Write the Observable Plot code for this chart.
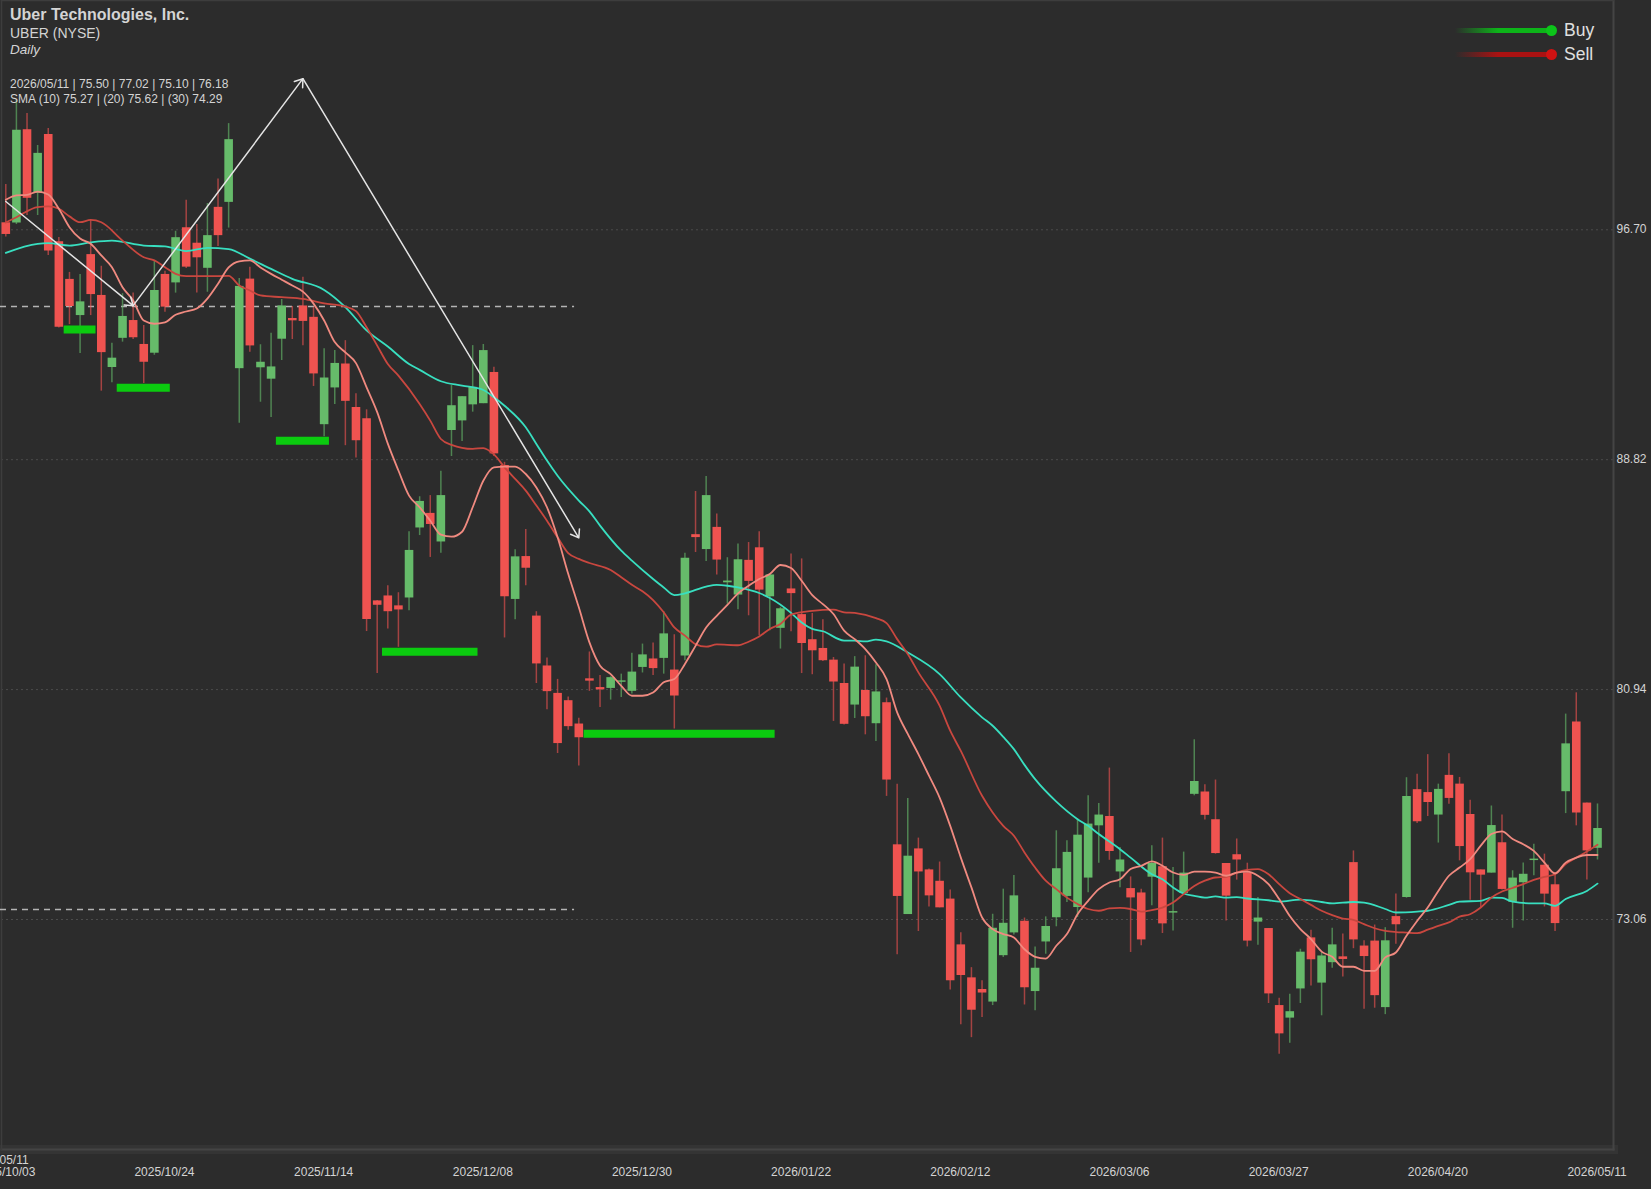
<!DOCTYPE html>
<html><head><meta charset="utf-8">
<script src="https://cdn.jsdelivr.net/npm/d3@7"></script>
<script src="https://cdn.jsdelivr.net/npm/@observablehq/plot@0.6"></script>
<style>
html,body{margin:0;padding:0;background:#2c2c2c;overflow:hidden}
#wrap{position:relative;width:1651px;height:1189px;font-family:"Liberation Sans",sans-serif;color:#d4d4d4}
#wrap svg{display:block}
.t{position:absolute;left:10px;white-space:nowrap}
.lg{position:absolute;left:1455px;width:96px;height:5px;}
.dot{position:absolute;left:1546px;width:11px;height:11px;border-radius:50%}
.lt{position:absolute;left:1564px;font-size:17.5px;color:#e0e0e0}
</style></head><body>
<div id="wrap">
<div class="t" style="top:6px;font-size:16px;font-weight:bold">Uber Technologies, Inc.</div>
<div class="t" style="top:25px;font-size:14px">UBER (NYSE)</div>
<div class="t" style="top:42px;font-size:13.5px;font-style:italic">Daily</div>
<div class="t" style="top:77px;font-size:12px">2026/05/11 | 75.50 | 77.02 | 75.10 | 76.18</div>
<div class="t" style="top:92px;font-size:12px">SMA (10) 75.27 | (20) 75.62 | (30) 74.29</div>
<div class="lg" style="top:27.5px;background:linear-gradient(to right,rgba(13,180,25,0),rgba(13,180,25,1) 45%)"></div>
<div class="dot" style="top:24.5px;background:#0cc41a"></div>
<div class="lt" style="top:20px">Buy</div>
<div class="lg" style="top:51.5px;background:linear-gradient(to right,rgba(170,18,18,0),rgba(170,18,18,1) 45%)"></div>
<div class="dot" style="top:48.5px;background:#d01212"></div>
<div class="lt" style="top:44px">Sell</div>
</div>
<script>
const tickBars=[0,15,30,45,60,75,90,105,120,135,150];
const tickLabels=["2025/10/03","2025/10/24","2025/11/14","2025/12/08","2025/12/30","2026/01/22","2026/02/12","2026/03/06","2026/03/27","2026/04/20","2026/05/11"];
const priceTicks=[96.70,88.82,80.94,73.06];
const open=[96.94,96.93,100.13,97.95,99.97,96.29,95.00,93.76,95.85,94.45,
91.98,92.98,93.59,92.77,92.47,95.17,94.88,96.77,96.24,95.38,
97.47,97.64,91.94,95.01,91.97,91.58,92.95,93.66,94.09,93.70,
90.02,91.28,92.10,90.61,90.22,83.98,84.15,83.81,84.08,86.48,
86.98,86.00,89.82,90.15,90.70,90.74,91.81,88.62,84.03,85.50,
83.46,81.75,80.81,80.56,79.76,81.31,81.01,80.98,81.19,80.88,
81.70,81.99,82.01,81.61,82.09,86.25,85.74,86.50,84.60,84.18,
85.37,85.80,84.12,83.04,84.39,83.51,82.65,82.35,81.95,81.15,
80.41,80.91,79.77,80.49,75.62,73.23,75.48,74.76,74.37,73.76,
72.19,71.06,70.66,70.23,71.82,72.60,73.00,70.59,72.29,73.12,
73.85,73.47,74.48,76.27,76.59,74.69,74.12,73.97,74.51,74.87,
73.28,73.95,77.35,77.43,76.48,74.98,75.28,74.66,72.97,72.75,
70.11,69.68,70.68,72.43,70.88,71.58,71.78,75.01,72.15,72.32,
70.04,73.16,73.81,77.51,77.41,76.64,78.00,77.70,76.66,74.76,
74.65,75.69,73.65,74.32,75.08,74.92,74.25,77.44,79.83,77.05,
75.50];
const high=[98.25,101.13,100.69,99.59,100.17,96.44,95.24,95.17,97.02,95.45,
92.81,94.51,94.53,93.42,95.62,95.28,96.65,97.71,96.88,97.60,
98.44,100.34,95.03,95.42,92.76,93.15,94.31,94.07,95.07,94.05,
92.62,92.56,92.90,91.08,90.53,83.99,84.50,84.26,86.35,87.55,
87.59,88.42,91.36,90.98,92.73,92.77,91.99,88.73,85.73,86.43,
83.61,82.02,81.29,80.69,79.96,82.23,81.42,81.38,81.47,82.19,
82.50,82.54,83.61,82.82,85.61,87.73,88.24,86.96,85.46,85.93,
85.98,86.35,84.90,83.76,85.59,85.42,83.55,83.33,82.04,81.82,
82.07,82.10,81.79,80.65,77.70,77.21,75.85,74.79,75.03,74.07,
72.61,71.41,70.96,73.24,74.10,74.57,73.11,72.12,73.15,76.10,
75.76,76.50,77.30,77.04,78.25,75.53,74.52,74.10,75.59,75.85,
74.84,75.37,79.22,77.68,77.84,74.98,75.82,74.99,73.81,72.75,
70.36,70.50,72.04,72.69,71.93,72.76,72.56,75.41,72.33,72.87,
72.78,73.93,77.92,78.04,78.71,77.70,78.74,77.93,77.15,74.76,
76.95,76.64,74.73,75.00,75.64,75.30,74.67,80.10,80.83,77.05,
77.02];
const low=[96.45,96.88,97.19,97.19,95.82,93.33,93.45,92.46,93.76,91.17,
91.46,92.85,92.94,91.43,92.40,93.87,94.53,95.37,94.53,94.56,
96.13,96.76,90.07,92.50,90.79,90.27,92.22,92.94,92.73,91.33,
89.61,90.71,89.30,88.88,82.93,81.49,83.02,82.39,83.64,86.22,
85.47,85.61,88.93,89.44,90.45,90.74,88.93,82.71,83.33,84.50,
81.15,80.25,78.75,79.55,78.32,80.88,80.33,80.58,80.67,80.79,
81.51,81.42,81.47,79.59,81.93,85.64,85.33,84.87,83.87,83.68,
83.47,82.79,82.96,82.33,82.92,81.49,81.45,81.90,79.85,79.73,
79.95,79.39,79.16,77.28,71.85,73.23,72.65,73.49,73.46,70.64,
69.45,69.01,69.70,70.11,71.76,72.53,70.13,69.93,71.87,72.81,
73.64,73.13,73.98,74.99,75.09,74.15,71.93,72.16,73.53,72.58,
72.67,73.95,77.30,76.47,75.30,73.01,74.41,72.12,72.18,70.18,
68.44,68.82,70.18,70.78,69.76,71.39,71.09,72.06,69.98,70.02,
69.80,72.21,73.79,76.35,76.59,75.68,77.01,75.07,73.72,73.47,
74.65,74.07,72.76,73.01,74.56,73.49,72.65,76.69,76.27,74.41,
75.10];
const close=[96.54,100.11,97.78,99.32,95.97,93.36,94.07,94.23,94.48,92.49,
92.30,93.73,93.00,92.16,94.62,94.05,96.43,95.42,95.74,96.50,
96.50,99.79,94.76,92.72,92.16,92.00,94.09,93.58,93.56,91.76,
91.62,92.12,90.82,89.47,83.34,83.83,83.61,83.67,85.71,87.39,
86.60,87.59,90.67,90.98,91.30,92.56,89.02,84.12,85.49,85.10,
81.82,80.87,79.09,79.67,79.29,81.23,80.93,81.35,81.24,81.54,
82.13,81.66,82.85,80.72,85.44,86.15,87.59,85.38,84.66,85.39,
84.65,84.35,84.87,83.71,84.23,82.52,82.27,81.93,81.20,79.75,
81.71,80.01,80.86,77.84,73.85,75.23,74.69,73.87,73.46,70.96,
71.14,69.95,70.54,72.76,72.93,73.87,70.72,71.39,72.82,74.80,
75.36,75.95,76.33,76.64,75.39,75.10,73.80,72.36,74.98,72.91,
73.33,74.65,77.79,76.63,75.32,73.86,75.10,72.32,73.11,70.51,
69.14,69.90,71.94,71.68,71.81,72.19,71.69,72.36,71.79,70.45,
72.33,72.88,77.28,76.41,77.07,77.52,77.21,75.56,74.66,74.58,
76.28,74.09,74.48,74.61,75.13,73.93,72.92,79.08,76.71,75.41,
76.18];
const sma10=[97.73,97.88,97.90,98.01,97.91,97.42,96.79,96.40,96.22,95.82,
95.42,94.73,94.28,93.59,93.48,93.53,93.79,93.90,94.00,94.34,
94.85,95.41,95.62,95.65,95.41,95.19,94.99,94.79,94.58,94.17,
93.59,92.85,92.50,92.13,91.30,90.45,89.37,88.45,87.59,87.19,
86.73,86.25,86.18,86.35,87.19,88.10,88.56,88.58,88.58,88.33,
87.87,87.19,86.16,84.91,83.76,82.56,81.76,81.47,81.07,80.73,
80.73,80.84,81.19,81.30,81.82,82.44,83.07,83.47,83.84,84.24,
84.50,84.73,84.90,85.21,85.11,84.67,84.18,83.87,83.53,82.96,
82.67,82.33,81.87,81.30,80.16,79.42,78.73,77.99,77.24,76.27,
75.18,74.16,73.13,72.73,72.56,72.44,72.04,71.78,71.72,72.16,
72.56,73.24,73.70,74.10,74.33,74.44,74.79,74.90,75.05,74.90,
74.67,74.59,74.70,74.70,74.67,74.56,74.67,74.70,74.56,74.27,
73.76,73.18,72.73,72.39,71.96,71.78,71.44,71.44,71.30,71.30,
71.76,71.93,72.50,73.01,73.47,74.04,74.56,74.84,75.13,75.59,
75.99,76.08,75.82,75.64,75.41,75.01,74.64,75.01,75.18,75.27,
75.27];
const sma20Bars=[0,1,3,4,5,6,7,8,9,11,13,14,15,16,17,19,21,22,23,24,26,28,30,32,33,34,35,36,37,39,40,41,42,44,45,46,47,48,49,50,51,52,53,54,55,57,58,59,60,61,62,63,64,65,66,67,69,70,71,72,73,74,76,78,79,80,82,83,84,85,86,88,89,90,92,93,94,95,96,97,98,99,100,101,102,103,104,105,106,107,108,109,110,111,112,113,114,115,116,117,118,119,120,121,122,123,124,125,126,127,128,129,130,131,132,133,134,135,136,137,138,139,140,141,142,143,144,145,146,147,148,149,150];
const sma20=[96.95,97.13,97.48,97.50,97.42,97.16,96.96,97.04,96.96,96.33,95.76,95.65,95.42,95.19,95.11,95.11,95.12,94.79,94.62,94.45,94.39,94.33,94.18,94.07,93.91,93.36,92.73,92.10,91.70,90.73,90.16,89.53,89.33,89.19,89.22,89.00,88.56,88.16,87.76,87.25,86.73,86.16,85.62,85.42,85.28,85.04,84.79,84.53,84.31,84.01,83.59,83.07,82.79,82.50,82.41,82.49,82.46,82.58,82.76,83.02,83.19,83.51,83.64,83.68,83.59,83.57,83.39,83.22,82.67,82.16,81.53,80.39,79.53,78.84,77.30,76.73,76.27,75.93,75.36,74.84,74.39,74.10,73.81,73.59,73.42,73.36,73.44,73.46,73.42,73.33,73.38,73.47,73.64,73.93,74.21,74.39,74.50,74.52,74.67,74.76,74.79,74.61,74.27,73.96,73.76,73.56,73.36,73.21,73.09,73.05,72.90,72.76,72.67,72.63,72.61,72.59,72.71,72.84,72.96,73.16,73.24,73.47,73.81,74.02,74.14,74.27,74.42,74.52,74.61,74.96,75.18,75.39,75.62];
const sma30Bars=[0,3,4,6,8,10,13,15,17,19,21,23,25,27,30,32,34,36,38,39,41,43,45,46,47,49,50,51,52,54,55,56,58,59,61,62,63,64,66,67,68,69,71,72,74,75,76,77,79,80,81,82,83,85,88,90,92,93,94,95,96,97,99,101,102,103,105,106,108,109,110,111,112,113,114,115,116,117,119,120,122,124,125,127,128,130,131,133,134,136,137,139,140,141,142,144,145,146,147,149,150];
const sma30=[95.91,96.22,96.24,96.16,96.27,96.33,96.16,96.13,95.97,96.08,96.04,95.71,95.36,95.02,94.64,94.05,93.25,92.70,92.10,91.90,91.51,91.36,91.21,90.96,90.67,89.93,89.36,88.79,88.27,87.42,87.05,86.56,85.70,85.36,84.73,84.44,84.18,84.24,84.47,84.53,84.50,84.44,84.25,84.08,83.57,83.24,83.02,82.94,82.62,82.62,82.59,82.65,82.59,82.21,81.47,80.67,79.99,79.70,79.32,78.90,78.36,77.87,77.10,76.50,76.27,75.99,75.47,75.18,74.61,74.44,74.16,73.95,73.87,73.81,73.85,73.81,73.83,73.78,73.72,73.67,73.74,73.66,73.61,73.66,73.64,73.42,73.30,73.33,73.36,73.56,73.67,73.70,73.81,73.80,73.67,73.61,73.61,73.53,73.76,74.04,74.29];
const buyStart=[5.5,10.5,25.5,35.5,54.5];
const buyEnd=[8.5,15.5,30.5,44.5,72.5];
const buyPrice=[93.28,91.29,89.47,82.24,79.43];
const swingBars=[0,12,28,54];
const swingPrice=[97.67,94.10,101.88,86.14];
const levelPrice=[94.07,73.40];
const levelStart=-0.5, levelEnd=53.6;
const strayLabel="2026/05/11";

const up="#66bb6a",down="#ef5350";
const bars=d3.range(open.length);
const colorOf=i=>close[i]>=open[i]?up:down;
const smaMark=(xs,vals,color)=>Plot.line(xs,{x:d=>d,y:(d,i)=>vals[i],stroke:color,strokeWidth:1.8,curve:"monotone-x"});
const legs=d3.range(swingBars.length-1);
const chart=Plot.plot({
  width:1651,height:1189,
  marginLeft:1,marginTop:0,marginRight:38,marginBottom:40,
  style:{background:"#2c2c2c",fontFamily:"'Liberation Sans',sans-serif",fontSize:"12px",color:"#d4d4d4"},
  x:{type:"linear",domain:[0,150],range:[5.3,1597]},
  y:{type:"linear",domain:[73.06,96.70],range:[919,229.3]},
  marks:[
    Plot.ruleY(priceTicks,{stroke:"#4c4c4c",strokeWidth:1,strokeDasharray:"2,3"}),
    Plot.frame({anchor:"bottom",stroke:"#343434",strokeWidth:9}),
    Plot.frame({anchor:"bottom",stroke:"#444",strokeWidth:2}),
    Plot.frame({anchor:"right",stroke:"#444",strokeWidth:2}),
    Plot.frame({anchor:"left",stroke:"#3d3d3d",strokeWidth:1.5}),
    Plot.frame({anchor:"top",stroke:"#3d3d3d",strokeWidth:1.5}),
    Plot.axisY({anchor:"right",ticks:priceTicks,tickFormat:d3.format(".2f"),tickSize:0,tickPadding:3,label:null,dy:-0.5,fill:"#d4d4d4"}),
    Plot.axisX({anchor:"bottom",ticks:tickBars,tickFormat:d=>tickLabels[tickBars.indexOf(d)],tickSize:0,tickPadding:18,label:null,dx:-0.5,fill:"#d4d4d4"}),
    Plot.text([strayLabel],{x:()=>-0.64,frameAnchor:"bottom",dy:14,fill:"#d4d4d4",fontSize:12,text:d=>d}),
    Plot.ruleY(levelPrice,{x1:levelStart,x2:levelEnd,stroke:"#b4b4b4",strokeWidth:1.5,strokeDasharray:"6,5"}),
    Plot.ruleX(bars,{x:d=>d,y1:i=>low[i],y2:i=>high[i],stroke:colorOf,strokeWidth:1.5,strokeOpacity:0.62}),
    Plot.ruleX(bars,{x:d=>d,y1:i=>open[i],y2:i=>close[i],stroke:colorOf,strokeWidth:8.6}),
    smaMark(sma30Bars,sma30,"#38dfc0"),
    smaMark(sma20Bars,sma20,"#c9473f"),
    smaMark(bars,sma10,"#f08a80"),
    Plot.ruleY(d3.range(buyPrice.length),{x1:i=>buyStart[i],x2:i=>buyEnd[i],y:i=>buyPrice[i],stroke:"#0bcb0f",strokeWidth:8}),
    Plot.arrow(legs,{x1:i=>swingBars[i],y1:i=>swingPrice[i],x2:i=>swingBars[i+1],y2:i=>swingPrice[i+1],stroke:"#e4e4e4",strokeWidth:1.5,headLength:9,headAngle:70})
  ]
});
document.getElementById("wrap").prepend(chart);
chart.style.position="absolute";chart.style.left="0";chart.style.top="0";
</script>
</body></html>
